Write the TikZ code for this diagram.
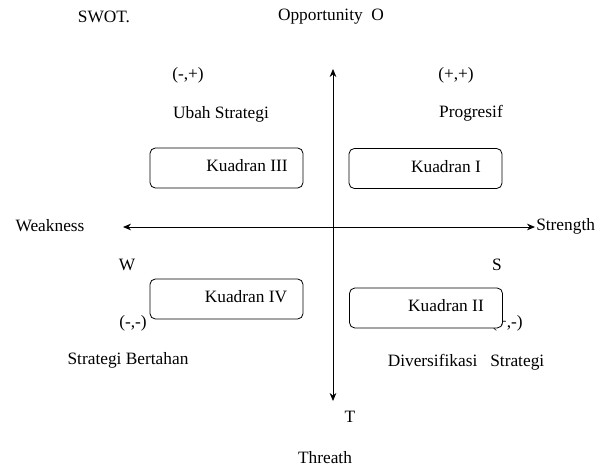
\documentclass[tikz,border=0pt]{standalone}
\usepackage{fontspec}
\setmainfont{Liberation Serif}
\usepackage{tikz}
\usetikzlibrary{arrows.meta}

\begin{document}
\begin{tikzpicture}[x=0.75pt, y=-0.75pt, >={Stealth[length=6pt, width=5pt]},
    every node/.style={font=\fontsize{13}{15}\selectfont},
    kbox/.style={draw, rounded corners=4pt, fill=white, line width=0.6pt,
      minimum width=114.75pt, minimum height=30pt, inner sep=0pt}]
  \useasboundingbox (0,0) rectangle (597,467);
  % labels at the top
  \node (swot) at (104,17) {SWOT.};
  \node (opp) at (331,17) {Opportunity\ \ O};
  % axes
  \coordinate (top) at (333,69);
  \coordinate (bot) at (333,401);
  \coordinate (lft) at (123,227);
  \coordinate (rgt) at (535,227);
  \draw[<->, line width=0.6pt] (bot) -- (top);
  \draw[<->, line width=0.6pt] (lft) -- (rgt);
  \node (weak) at (50,226) {Weakness};
  \node[anchor=west, inner sep=0pt] (str) at (536,226) {Strength};
  \node (w) at (127,265) {W};
  \node (s) at (497,265) {S};
  \node (t) at (350,417) {T};
  \node (thr) at (325,458) {Threath};
  % upper quadrants
  \node (mp) at (188,75) {(-,+)};
  \node (pp) at (456,75) {(+,+)};
  \node (ubah) at (221,114) {Ubah Strategi};
  \node (prog) at (471,113) {Progresif};
  \node[kbox] (k3) at (226.5,168) {};
  \node (k3t) at (247,166) {Kuadran III};
  \node[kbox] (k1) at (425.5,168.5) {};
  \node (k1t) at (446,167) {Kuadran I};
  % lower quadrants
  \node (mm) at (133,323) {(-,-)};
  \node (pm) at (507,323) {(+,-)};
  \node[kbox] (k4) at (226.5,299) {};
  \node (k4t) at (246,297) {Kuadran IV};
  \node[kbox] (k2) at (426,308) {};
  \node (k2t) at (446,306) {Kuadran II};
  \node (bert) at (128,360) {Strategi Bertahan};
  \node (div) at (466,362) {Diversifikasi\ \ \ Strategi};
\end{tikzpicture}
\end{document}
